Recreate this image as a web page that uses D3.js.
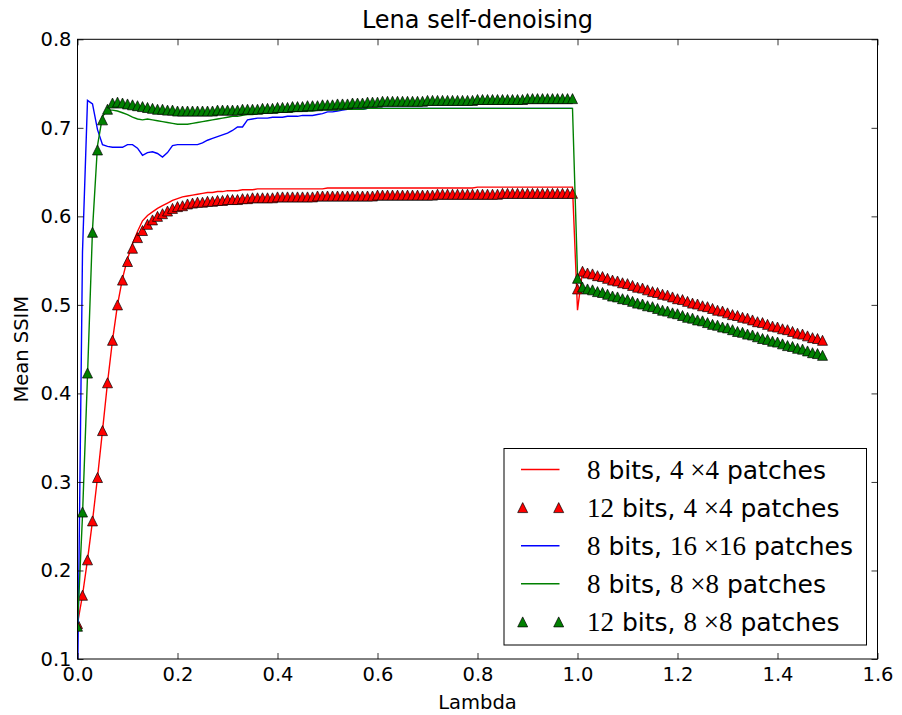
<!DOCTYPE html>
<html>
<head>
<meta charset="utf-8">
<script src="https://cdn.jsdelivr.net/npm/d3@7"></script>
<style>
  body { margin: 0; background: #fff; }
  text { font-family: "DejaVu Sans", sans-serif; }
  .math { font-family: "Liberation Serif", "DejaVu Serif", serif; }
</style>
</head>
<body>
<div id="chart"></div>
<script>
// Sample grid of the lambda sweep (0.00 .. 1.49, step 0.01)
const lambda = d3.range(150).map(i => i / 100);

const xTicks = [0, 0.2, 0.4, 0.6, 0.8, 1.0, 1.2, 1.4, 1.6];
const xTickLabels = ["0.0", "0.2", "0.4", "0.6", "0.8", "1.0", "1.2", "1.4", "1.6"];
const yTicks = [0.1, 0.2, 0.3, 0.4, 0.5, 0.6, 0.7, 0.8];
const yTickLabels = ["0.1", "0.2", "0.3", "0.4", "0.5", "0.6", "0.7", "0.8"];

// values after the jump at lambda = 1.01 .. 1.49
const tail4x4 = [0.538, 0.536, 0.535, 0.533, 0.532, 0.530, 0.528, 0.527, 0.525, 0.524,
  0.522, 0.520, 0.519, 0.517, 0.515, 0.514, 0.512, 0.511, 0.509, 0.507,
  0.506, 0.504, 0.502, 0.501, 0.499, 0.498, 0.496, 0.494, 0.493, 0.491,
  0.489, 0.488, 0.486, 0.485, 0.483, 0.481, 0.480, 0.478, 0.476, 0.475,
  0.473, 0.472, 0.470, 0.468, 0.467, 0.465, 0.463, 0.462, 0.460];
const tail8x8 = [0.520, 0.518, 0.517, 0.515, 0.514, 0.512, 0.510, 0.509, 0.507, 0.506,
  0.504, 0.502, 0.501, 0.499, 0.498, 0.496, 0.494, 0.493, 0.491, 0.490,
  0.488, 0.486, 0.485, 0.483, 0.482, 0.480, 0.478, 0.477, 0.475, 0.474,
  0.472, 0.470, 0.469, 0.467, 0.466, 0.464, 0.462, 0.461, 0.459, 0.458,
  0.456, 0.454, 0.453, 0.451, 0.450, 0.448, 0.446, 0.445, 0.443];

// 8 bits, 4x4 patches (line)
const bits8p4 = [0.140, 0.172, 0.212, 0.256, 0.305, 0.358, 0.412, 0.460, 0.500, 0.530,
  0.552, 0.569, 0.583, 0.595, 0.601, 0.605, 0.609, 0.612, 0.615, 0.618,
  0.620, 0.622, 0.623, 0.624, 0.625, 0.626, 0.627, 0.627, 0.628, 0.628,
  0.629, 0.629, 0.629, 0.630, 0.630, 0.630, 0.631, 0.631, 0.631, 0.631,
  0.631, 0.631, 0.631, 0.631, 0.631, 0.631, 0.631, 0.631, 0.631, 0.631,
  0.632, 0.632, 0.632, 0.632, 0.632, 0.632, 0.632, 0.632, 0.632, 0.632,
  0.632, 0.632, 0.632, 0.632, 0.632, 0.632, 0.632, 0.632, 0.632, 0.632,
  0.632, 0.632, 0.632, 0.632, 0.632, 0.632, 0.632, 0.632, 0.632, 0.632,
  0.633, 0.633, 0.633, 0.633, 0.633, 0.633, 0.633, 0.633, 0.633, 0.633,
  0.633, 0.633, 0.633, 0.633, 0.633, 0.633, 0.633, 0.633, 0.633, 0.633,
  0.494].concat(tail4x4);

// 12 bits, 4x4 patches (markers)
const bits12p4 = [0.140, 0.172, 0.212, 0.256, 0.305, 0.358, 0.412, 0.460, 0.500, 0.528,
  0.549, 0.564, 0.576, 0.584, 0.591, 0.596, 0.600, 0.603, 0.606, 0.609,
  0.611, 0.612, 0.614, 0.615, 0.616, 0.616, 0.617, 0.617, 0.618, 0.618,
  0.619, 0.619, 0.619, 0.620, 0.620, 0.621, 0.621, 0.621, 0.621, 0.621,
  0.622, 0.622, 0.622, 0.622, 0.622, 0.622, 0.622, 0.622, 0.623, 0.623,
  0.623, 0.623, 0.623, 0.623, 0.623, 0.623, 0.623, 0.623, 0.623, 0.623,
  0.624, 0.624, 0.624, 0.624, 0.624, 0.624, 0.624, 0.624, 0.624, 0.624,
  0.624, 0.624, 0.625, 0.625, 0.625, 0.625, 0.625, 0.625, 0.625, 0.625,
  0.625, 0.625, 0.625, 0.625, 0.625, 0.626, 0.626, 0.626, 0.626, 0.626,
  0.626, 0.626, 0.626, 0.626, 0.626, 0.626, 0.626, 0.626, 0.626, 0.626,
  0.518].concat(tail4x4);

// 8 bits, 16x16 patches (line, up to lambda 0.99)
const bits8p16 = [0.060, 0.560, 0.731, 0.727, 0.698, 0.681, 0.679, 0.678, 0.678, 0.678,
  0.681, 0.681, 0.677, 0.669, 0.672, 0.673, 0.671, 0.667, 0.672, 0.680,
  0.681, 0.681, 0.681, 0.681, 0.681, 0.683, 0.686, 0.688, 0.690, 0.692,
  0.694, 0.697, 0.701, 0.701, 0.709, 0.710, 0.711, 0.711, 0.711, 0.712,
  0.712, 0.712, 0.713, 0.713, 0.713, 0.714, 0.714, 0.714, 0.715, 0.716,
  0.718, 0.718, 0.719, 0.720, 0.721, 0.721, 0.721, 0.721, 0.722, 0.722,
  0.722, 0.722, 0.722, 0.722, 0.722, 0.722, 0.722, 0.722, 0.722, 0.722,
  0.722, 0.722, 0.722, 0.722, 0.722, 0.722, 0.722, 0.722, 0.722, 0.722,
  0.722, 0.722, 0.722, 0.722, 0.722, 0.722, 0.722, 0.722, 0.722, 0.722,
  0.722, 0.722, 0.722, 0.722, 0.722, 0.722, 0.722, 0.722, 0.722, 0.722];

// 8 bits, 8x8 patches (line)
const bits8p8 = [0.137, 0.262, 0.420, 0.585, 0.680, 0.713, 0.720, 0.720, 0.719, 0.717,
  0.715, 0.712, 0.710, 0.709, 0.710, 0.709, 0.708, 0.707, 0.706, 0.705,
  0.704, 0.704, 0.704, 0.705, 0.706, 0.707, 0.708, 0.709, 0.710, 0.711,
  0.712, 0.713, 0.713, 0.714, 0.715, 0.715, 0.716, 0.716, 0.717, 0.717,
  0.717, 0.718, 0.718, 0.718, 0.719, 0.719, 0.719, 0.719, 0.720, 0.720,
  0.720, 0.720, 0.720, 0.721, 0.721, 0.721, 0.721, 0.721, 0.722, 0.722,
  0.722, 0.722, 0.722, 0.722, 0.722, 0.722, 0.722, 0.722, 0.722, 0.722,
  0.722, 0.722, 0.722, 0.722, 0.722, 0.722, 0.722, 0.722, 0.722, 0.722,
  0.722, 0.722, 0.722, 0.722, 0.722, 0.722, 0.722, 0.722, 0.722, 0.722,
  0.722, 0.722, 0.722, 0.722, 0.722, 0.722, 0.722, 0.722, 0.722, 0.722,
  0.534].concat(tail8x8);

// 12 bits, 8x8 patches (markers)
const bits12p8 = [0.137, 0.266, 0.423, 0.582, 0.675, 0.709, 0.721, 0.728, 0.729, 0.728,
  0.727, 0.726, 0.725, 0.724, 0.723, 0.722, 0.721, 0.721, 0.720, 0.720,
  0.719, 0.719, 0.719, 0.719, 0.719, 0.719, 0.719, 0.719, 0.720, 0.720,
  0.720, 0.720, 0.720, 0.721, 0.721, 0.721, 0.721, 0.722, 0.722, 0.722,
  0.723, 0.723, 0.723, 0.724, 0.724, 0.724, 0.725, 0.725, 0.725, 0.726,
  0.726, 0.726, 0.727, 0.727, 0.727, 0.728, 0.728, 0.728, 0.729, 0.729,
  0.729, 0.730, 0.730, 0.730, 0.730, 0.730, 0.730, 0.730, 0.730, 0.730,
  0.731, 0.731, 0.731, 0.731, 0.731, 0.731, 0.731, 0.731, 0.731, 0.731,
  0.732, 0.732, 0.732, 0.732, 0.732, 0.732, 0.732, 0.732, 0.732, 0.732,
  0.733, 0.733, 0.733, 0.733, 0.733, 0.733, 0.733, 0.733, 0.733, 0.733,
  0.530].concat(tail8x8);

// legend rows: [piece, isMath]
const series = [
  { values: bits8p4, color: "#ff0000", type: "line", label: [["8", 1], [" bits, ", 0], ["4 \u00d74", 1], [" patches", 0]] },
  { values: bits12p4, color: "#ff0000", type: "marker", label: [["12", 1], [" bits, ", 0], ["4 \u00d74", 1], [" patches", 0]] },
  { values: bits8p16, color: "#0000ff", type: "line", label: [["8", 1], [" bits, ", 0], ["16 \u00d716", 1], [" patches", 0]] },
  { values: bits8p8, color: "#008000", type: "line", label: [["8", 1], [" bits, ", 0], ["8 \u00d78", 1], [" patches", 0]] },
  { values: bits12p8, color: "#008000", type: "marker", label: [["12", 1], [" bits, ", 0], ["8 \u00d78", 1], [" patches", 0]] }
];

const width = 902;
const height = 715;
const plot = { left: 77.5, right: 877.5, top: 39.3, bottom: 659 };

const svg = d3.select("#chart").append("svg")
    .attr("width", width)
    .attr("height", height);

const x = d3.scaleLinear().domain([0, 1.6]).range([plot.left, plot.right]);
const y = d3.scaleLinear().domain([0.1, 0.8]).range([plot.bottom, plot.top]);

svg.append("clipPath").attr("id", "clip")
  .append("rect")
    .attr("x", plot.left).attr("y", plot.top)
    .attr("width", plot.right - plot.left)
    .attr("height", plot.bottom - plot.top);

// triangle_up like matplotlib: apex on top, base at bottom, centred on the point
const triSize = 10;
function triangle(s) {
  const h = s / 2;
  return `M0,${-h}L${h},${h}L${-h},${h}Z`;
}

const line = d3.line()
    .x((d, i) => x(lambda[i]))
    .y(d => y(d));

const g = svg.append("g").attr("clip-path", "url(#clip)");

series.forEach(s => {
  if (s.type === "line") {
    g.append("path")
        .attr("d", line(s.values))
        .attr("fill", "none")
        .attr("stroke", s.color)
        .attr("stroke-width", 1.4);
  } else {
    g.append("g")
      .selectAll("path")
      .data(s.values)
      .join("path")
        .attr("transform", (d, i) => `translate(${x(lambda[i])},${y(d)})`)
        .attr("d", triangle(triSize))
        .attr("fill", s.color)
        .attr("stroke", "#000")
        .attr("stroke-width", 0.7);
  }
});

// axes, ticks pointing inwards on all four sides
function styleAxis(sel) {
  sel.select(".domain").remove();
  sel.selectAll(".tick line").attr("stroke", "#000").attr("stroke-width", 0.8);
  sel.selectAll(".tick text").attr("fill", "#000").style("font-size", "19.5px")
     .style("font-family", "DejaVu Sans");
}

svg.append("g")
    .attr("transform", `translate(0,${plot.bottom})`)
    .call(d3.axisBottom(x).tickValues(xTicks).tickFormat((d, i) => xTickLabels[i])
      .tickSize(-6).tickPadding(8))
    .call(styleAxis);

svg.append("g")
    .attr("transform", `translate(0,${plot.top})`)
    .call(d3.axisTop(x).tickValues(xTicks).tickFormat("").tickSize(-6))
    .call(styleAxis);

svg.append("g")
    .attr("transform", `translate(${plot.left},0)`)
    .call(d3.axisLeft(y).tickValues(yTicks).tickFormat((d, i) => yTickLabels[i])
      .tickSize(-6).tickPadding(6))
    .call(styleAxis);

svg.append("g")
    .attr("transform", `translate(${plot.right},0)`)
    .call(d3.axisRight(y).tickValues(yTicks).tickFormat("").tickSize(-6))
    .call(styleAxis);

svg.append("rect")
    .attr("x", plot.left).attr("y", plot.top)
    .attr("width", plot.right - plot.left)
    .attr("height", plot.bottom - plot.top)
    .attr("fill", "none")
    .attr("stroke", "#000")
    .attr("stroke-width", 1);

// title and axis labels
svg.append("text")
    .attr("x", (plot.left + plot.right) / 2)
    .attr("y", 28)
    .attr("text-anchor", "middle")
    .style("font-size", "24px")
    .text("Lena self-denoising");

svg.append("text")
    .attr("x", (plot.left + plot.right) / 2)
    .attr("y", 709)
    .attr("text-anchor", "middle")
    .style("font-size", "19.5px")
    .text("Lambda");

svg.append("text")
    .attr("transform", `translate(28,${(plot.top + plot.bottom) / 2}) rotate(-90)`)
    .attr("text-anchor", "middle")
    .style("font-size", "19.5px")
    .text("Mean SSIM");

// legend
const legend = svg.append("g");
legend.append("rect")
    .attr("x", 504).attr("y", 448.5)
    .attr("width", 362.5).attr("height", 196.5)
    .attr("fill", "#fff")
    .attr("stroke", "#000")
    .attr("stroke-width", 1);

series.forEach((s, i) => {
  const cy = 469.5 + i * 38.1;
  if (s.type === "line") {
    legend.append("line")
        .attr("x1", 521).attr("x2", 559.5)
        .attr("y1", cy).attr("y2", cy)
        .attr("stroke", s.color)
        .attr("stroke-width", 1.4);
  } else {
    [522.7, 558.7].forEach(px => {
      legend.append("path")
          .attr("transform", `translate(${px},${cy})`)
          .attr("d", triangle(triSize))
          .attr("fill", s.color)
          .attr("stroke", "#000")
          .attr("stroke-width", 0.7);
    });
  }
  const t = legend.append("text")
      .attr("x", 587)
      .attr("y", cy + 9)
      .attr("xml:space", "preserve");
  s.label.forEach(([txt, isMath]) => {
    t.append("tspan")
        .attr("class", isMath ? "math" : null)
        .style("font-size", isMath ? "27px" : "25px")
        .text(txt);
  });
});
</script>
</body>
</html>
